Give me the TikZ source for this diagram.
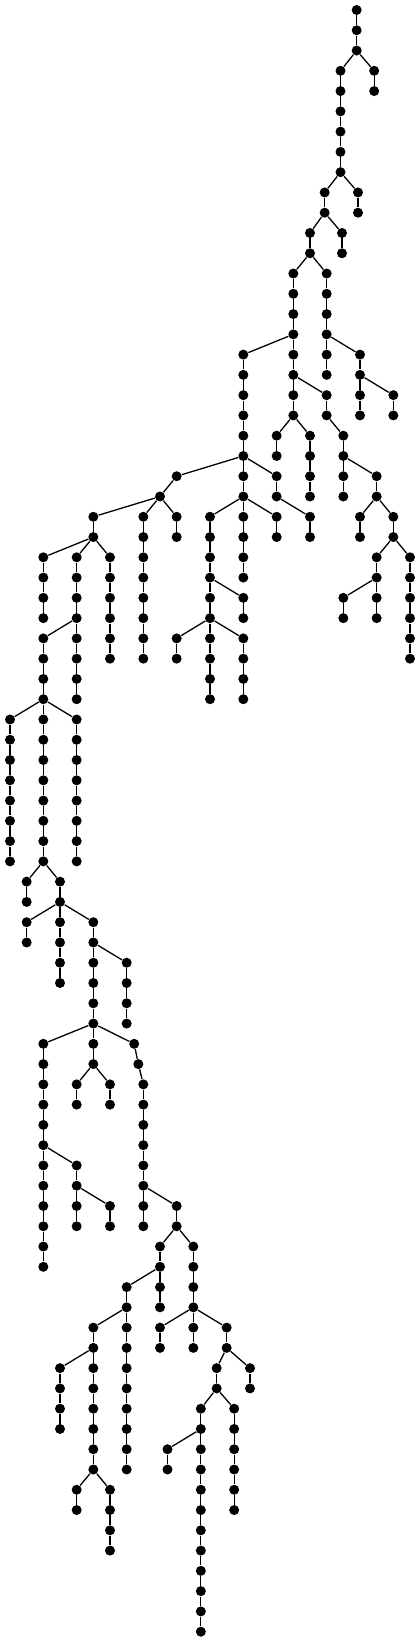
\documentclass[tikz,border=0pt]{standalone}
\usepackage{tikz}
\begin{document}
\begin{tikzpicture}[%
        x=8.333pt, y=-10.135pt,
        vertex/.style={circle, fill=black, inner sep=0pt, minimum size=5pt},
        link/.style={line width=0.65pt},
    ]
    % fix the page size
    \useasboundingbox (-0.6,-0.4933) rectangle (24.54,80.51);

    % root and the two vertices below it
    \foreach \r in {0,1,2}{
        \node[vertex] (a-\r) at (20.8,\r) {};
    }
    \draw[link] (a-0) -- (a-1) -- (a-2);

    % vertical runs of vertices: name/column/first level/last level/parent
    \foreach \c/\k/\from/\to/\p in {
            b/21.85/3/4/a-2, c/19.83/3/8/a-2,
            d/20.88/9/10/c-8, e/18.88/9/10/c-8,
            f/19.92/11/12/e-10, g/18/11/12/e-10,
            h/19/13/18/g-12, i/21/17/20/h-16, j/23/19/20/i-18,
            k/17/13/20/g-12, l/14/17/28/k-16,
            m/16/21/22/k-20, n/18/21/24/k-20,
            o/19/19/20/k-18, p/20/21/24/o-20, q/22/23/24/p-22,
            s/21/25/26/q-24, t/23/25/26/q-24,
            u/22/27/30/t-26, w/24/27/32/t-26, v/20/29/30/u-28,
            x/16/23/24/l-22, y/18/25/26/x-24,
            z/12/25/34/l-24, aa/16/25/26/l-24,
            ab/14/29/30/z-28, ac/10/31/32/z-30, ad/14/31/34/z-30,
            ae/10/23/23/l-22, af/9/24/24/ae-23,
            ag/5/25/26/af-24, ah/8/25/32/af-24, ai/10/25/26/af-24,
            aj/2/27/30/ag-26, ak/4/27/34/ag-26, al/6/27/32/ag-26,
            am/2/31/42/ak-30, an/0/35/42/am-34, ao/4/35/42/am-34,
            ap/1/43/44/am-42, aq/3/43/48/am-42,
            ar/1/45/46/aq-44, as/5/45/52/aq-44, at/7/47/50/as-46,
            au/2/51/62/as-50, av/4/53/54/as-52, aw/6/53/54/as-52,
            ax/7.45/51/51/as-50, ay/7.7/52/52/ax-51, az/8/53/60/ay-52,
            ba/4/57/60/au-56, bb/6/59/60/ba-58,
            bc/10/59/60/az-58, bd/9/61/64/bc-60, be/11/61/66/bc-60,
            bf/7/63/72/bd-62, bg/5/65/72/bf-64, bh/3/67/70/bg-66,
            bi/4/73/74/bg-72, bj/6/73/76/bg-72,
            bk/9/65/66/be-64, bl/13/65/66/be-64,
            bm/12.4/67/68/bl-66, bn/14.4/67/68/bl-66,
            bo/11.45/69/80/bm-68, bp/13.45/69/74/bm-68, bq/9.45/71/72/bo-70}{
        \foreach \r in {\from,...,\to}{
            \node[vertex] (\c-\r) at (\k,\r) {};
            \pgfmathtruncatemacro{\prev}{\r-1}
            \ifnum\r=\from
                \draw[link] (\p) -- (\c-\r);
            \else
                \draw[link] (\c-\prev) -- (\c-\r);
            \fi
        }
    }
\end{tikzpicture}
\end{document}
